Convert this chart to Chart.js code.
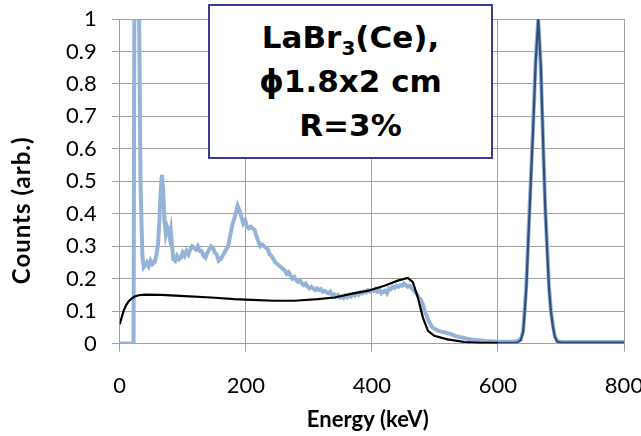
<!DOCTYPE html>
<html>
<head>
<meta charset="utf-8">
<script src="https://cdn.jsdelivr.net/npm/chart.js@4.4.1/dist/chart.umd.min.js"></script>
<style>
  html, body { margin: 0; padding: 0; background: #fff; }
  #wrap { position: relative; width: 641px; height: 436px; overflow: hidden; }
  #note {
    position: absolute; left: 208px; top: 4px; width: 285px; height: 155px;
    border: 2px solid #3b3b9e; background: #fff;
    font-family: "DejaVu Sans", sans-serif; font-weight: bold; font-size: 31px;
    line-height: 44px; text-align: center; color: #000;
    box-sizing: border-box; padding-top: 9px;
  }
  #note sub { font-size: 20px; line-height: 0; vertical-align: -7px; }
</style>
</head>
<body>
<div id="wrap">
  <canvas id="spec" width="665" height="436"></canvas>
  <div id="note">LaBr<sub>3</sub>(Ce),<br>&#981;1.8x2 cm<br>R=3%</div>
</div>
<script>
// Measured spectrum (light blue)
const measE = [0, 10, 20, 22, 23.5, 27, 30, 33, 34.5, 36, 38, 40, 43, 46, 49, 52, 55, 58, 61, 63, 65, 67, 69, 71, 73, 75, 77, 79, 81, 83, 85, 88,
  91, 94, 97, 100, 103, 106, 109, 112, 115, 118, 121, 124, 127, 130, 133, 136, 139, 142, 145, 148, 151, 154, 157, 160, 163, 166, 169, 172,
  175, 178, 181, 184, 187, 190, 193, 196, 199, 202, 205, 208, 211, 214, 217, 220, 223, 226, 229, 232, 235, 238, 241, 244, 247, 250, 253,
  256, 259, 262, 265, 268, 271, 274, 277, 280, 283, 286, 289, 292, 295, 298, 301, 304, 307, 310, 313, 316, 319, 322, 325, 328, 331, 334,
  337, 340, 343, 346, 349, 352, 355, 358, 361, 364, 367, 370, 373, 376, 379, 382, 385, 388, 391, 394, 397, 400, 403, 406, 409, 412, 415,
  418, 421, 424, 427, 430, 433, 436, 439, 442, 445, 448, 451, 454, 457, 460, 463, 466, 469, 472, 475, 478, 481, 484, 487, 490, 493, 496,
  500, 505, 510, 515, 520, 525, 530, 535, 540, 545, 550, 560, 570, 580, 590, 600, 610, 620, 630, 636, 640, 642, 645, 648, 652, 656, 660,
  664, 668, 672, 675, 678, 681, 684, 687, 690, 694, 700, 720, 740, 760, 780, 800];
const measCounts = [0, 0, 0, 0, 1.3, 1.8, 1.2, 0.5, 0.38, 0.27, 0.235, 0.24, 0.25, 0.238, 0.255, 0.245, 0.25, 0.27, 0.31, 0.38, 0.47, 0.52, 0.47, 0.38, 0.34, 0.36, 0.35, 0.33, 0.35, 0.3, 0.26, 0.255,
  0.27, 0.26, 0.265, 0.28, 0.27, 0.285, 0.275, 0.29, 0.3, 0.295, 0.29, 0.3, 0.285, 0.285, 0.27, 0.265, 0.28, 0.29, 0.3, 0.295, 0.28, 0.275, 0.255, 0.26, 0.27, 0.28, 0.29, 0.3,
  0.33, 0.36, 0.38, 0.4, 0.425, 0.41, 0.39, 0.37, 0.38, 0.36, 0.355, 0.36, 0.355, 0.35, 0.33, 0.315, 0.3, 0.305, 0.3, 0.295, 0.29, 0.275, 0.27, 0.26, 0.25, 0.245, 0.24,
  0.235, 0.23, 0.225, 0.215, 0.22, 0.21, 0.2, 0.205, 0.195, 0.19, 0.195, 0.185, 0.18, 0.185, 0.175, 0.17, 0.175, 0.17, 0.165, 0.17, 0.165, 0.168, 0.16, 0.163, 0.158, 0.155, 0.16,
  0.15, 0.152, 0.145, 0.15, 0.142, 0.145, 0.14, 0.148, 0.143, 0.15, 0.145, 0.152, 0.148, 0.155, 0.15, 0.158, 0.155, 0.16, 0.158, 0.165, 0.16, 0.165, 0.162, 0.168, 0.16, 0.165, 0.155,
  0.16, 0.163, 0.155, 0.17, 0.168, 0.175, 0.172, 0.178, 0.175, 0.18, 0.178, 0.185, 0.18, 0.175, 0.178, 0.17, 0.165, 0.158, 0.15, 0.14, 0.135, 0.12, 0.1, 0.085, 0.07, 0.06, 0.05,
  0.045, 0.04, 0.037, 0.035, 0.032, 0.03, 0.025, 0.022, 0.02, 0.018, 0.015, 0.012, 0.01, 0.008, 0.007, 0.006, 0.006, 0.006, 0.007, 0.012, 0.04, 0.09, 0.18, 0.32, 0.5, 0.68, 0.88,
  1.0, 0.85, 0.6, 0.42, 0.3, 0.18, 0.1, 0.06, 0.025, 0.008, 0.005, 0.005, 0.005, 0.005, 0.005, 0.005];

// Simulated spectrum (black)
const simE = [0, 3, 6, 10, 14, 19, 24, 30, 40, 66, 103, 145, 182, 209, 245, 277, 314, 341, 367, 394, 420, 441, 457, 465, 473, 481, 489, 499, 520, 547, 573,
  600, 630, 636, 640, 642, 645, 648, 652, 656, 660, 664, 668, 672, 675, 678, 681, 684, 687, 690, 694, 700, 750, 800];
const simCounts = [0.06, 0.08, 0.1, 0.118, 0.13, 0.139, 0.145, 0.149, 0.151, 0.15, 0.146, 0.142, 0.137, 0.135, 0.132, 0.132, 0.137, 0.142, 0.153, 0.163, 0.178, 0.194, 0.202, 0.189, 0.142, 0.08, 0.039, 0.024, 0.013, 0.005, 0.002,
  0.002, 0.003, 0.01, 0.035, 0.085, 0.17, 0.31, 0.49, 0.67, 0.87, 1.0, 0.86, 0.6, 0.42, 0.29, 0.17, 0.1, 0.055, 0.022, 0.006, 0.003, 0.003, 0.003];

const xTicks = [0, 200, 400, 600, 800];
const yTicks = [0, 0.1, 0.2, 0.3, 0.4, 0.5, 0.6, 0.7, 0.8, 0.9, 1];

const pts = (xs, ys) => xs.map((x, i) => ({ x: x, y: ys[i] }));

// axis titles drawn by hand (Excel puts the y one a bit below centre)
const axisTitles = {
  id: 'axisTitles',
  afterDraw(chart) {
    const c = chart.ctx, a = chart.chartArea;
    c.save();
    c.fillStyle = '#000';
    c.textAlign = 'center';
    c.textBaseline = 'middle';
    c.font = 'bold 22px Lato';
    c.fillText('Energy (keV)', (a.left + a.right) / 2 - 4, 420);
    c.translate(22, (a.top + a.bottom) / 2 + 29);
    c.rotate(-Math.PI / 2);
    c.font = 'bold 24px Lato';
    c.letterSpacing = '1px';
    c.fillText('Counts (arb.)', 0, 0);
    c.restore();
  }
};

const gridGray = '#a0a0a0';

new Chart(document.getElementById('spec'), {
  type: 'line',
  data: {
    datasets: [
      {
        label: 'measured',
        data: pts(measE, measCounts),
        borderColor: '#95b3d7',
        borderWidth: 4,
        pointRadius: 0,
        tension: 0,
        order: 2
      },
      {
        label: 'simulated',
        data: pts(simE, simCounts),
        borderColor: '#000',
        borderWidth: 2.2,
        pointRadius: 0,
        tension: 0,
        order: 1,
        segment: {
          borderColor: ctx => ctx.p0.parsed.x >= 600 ? '#2f5079' : '#000'
        }
      }
    ]
  },
  options: {
    responsive: false,
    animation: false,
    layout: { padding: { left: 61, right: 41, top: 19, bottom: 16 } },
    plugins: { legend: { display: false }, tooltip: { enabled: false } },
    scales: {
      x: {
        type: 'linear',
        min: 0, max: 800,
        afterBuildTicks: s => { s.ticks = xTicks.map(v => ({ value: v })); },
        ticks: { font: { family: 'Lato', size: 22 }, color: '#000', padding: 21, maxRotation: 0, autoSkip: false },
        grid: { color: gridGray, tickLength: 8, tickColor: gridGray },
        border: { color: gridGray }
      },
      y: {
        min: 0, max: 1,
        afterBuildTicks: s => { s.ticks = yTicks.map(v => ({ value: v })); },
        ticks: {
          font: { family: 'Lato', size: 22 }, color: '#000', padding: 5, autoSkip: false,
          callback: v => String(Number(v.toFixed(1)))
        },
        // long tick slot, but only the 8px next to the axis is drawn
        grid: { color: gridGray, tickLength: 18, tickColor: gridGray, tickBorderDash: [0, 10, 8, 100] },
        border: { color: gridGray }
      }
    }
  },
  plugins: [axisTitles]
});
</script>
</body>
</html>
